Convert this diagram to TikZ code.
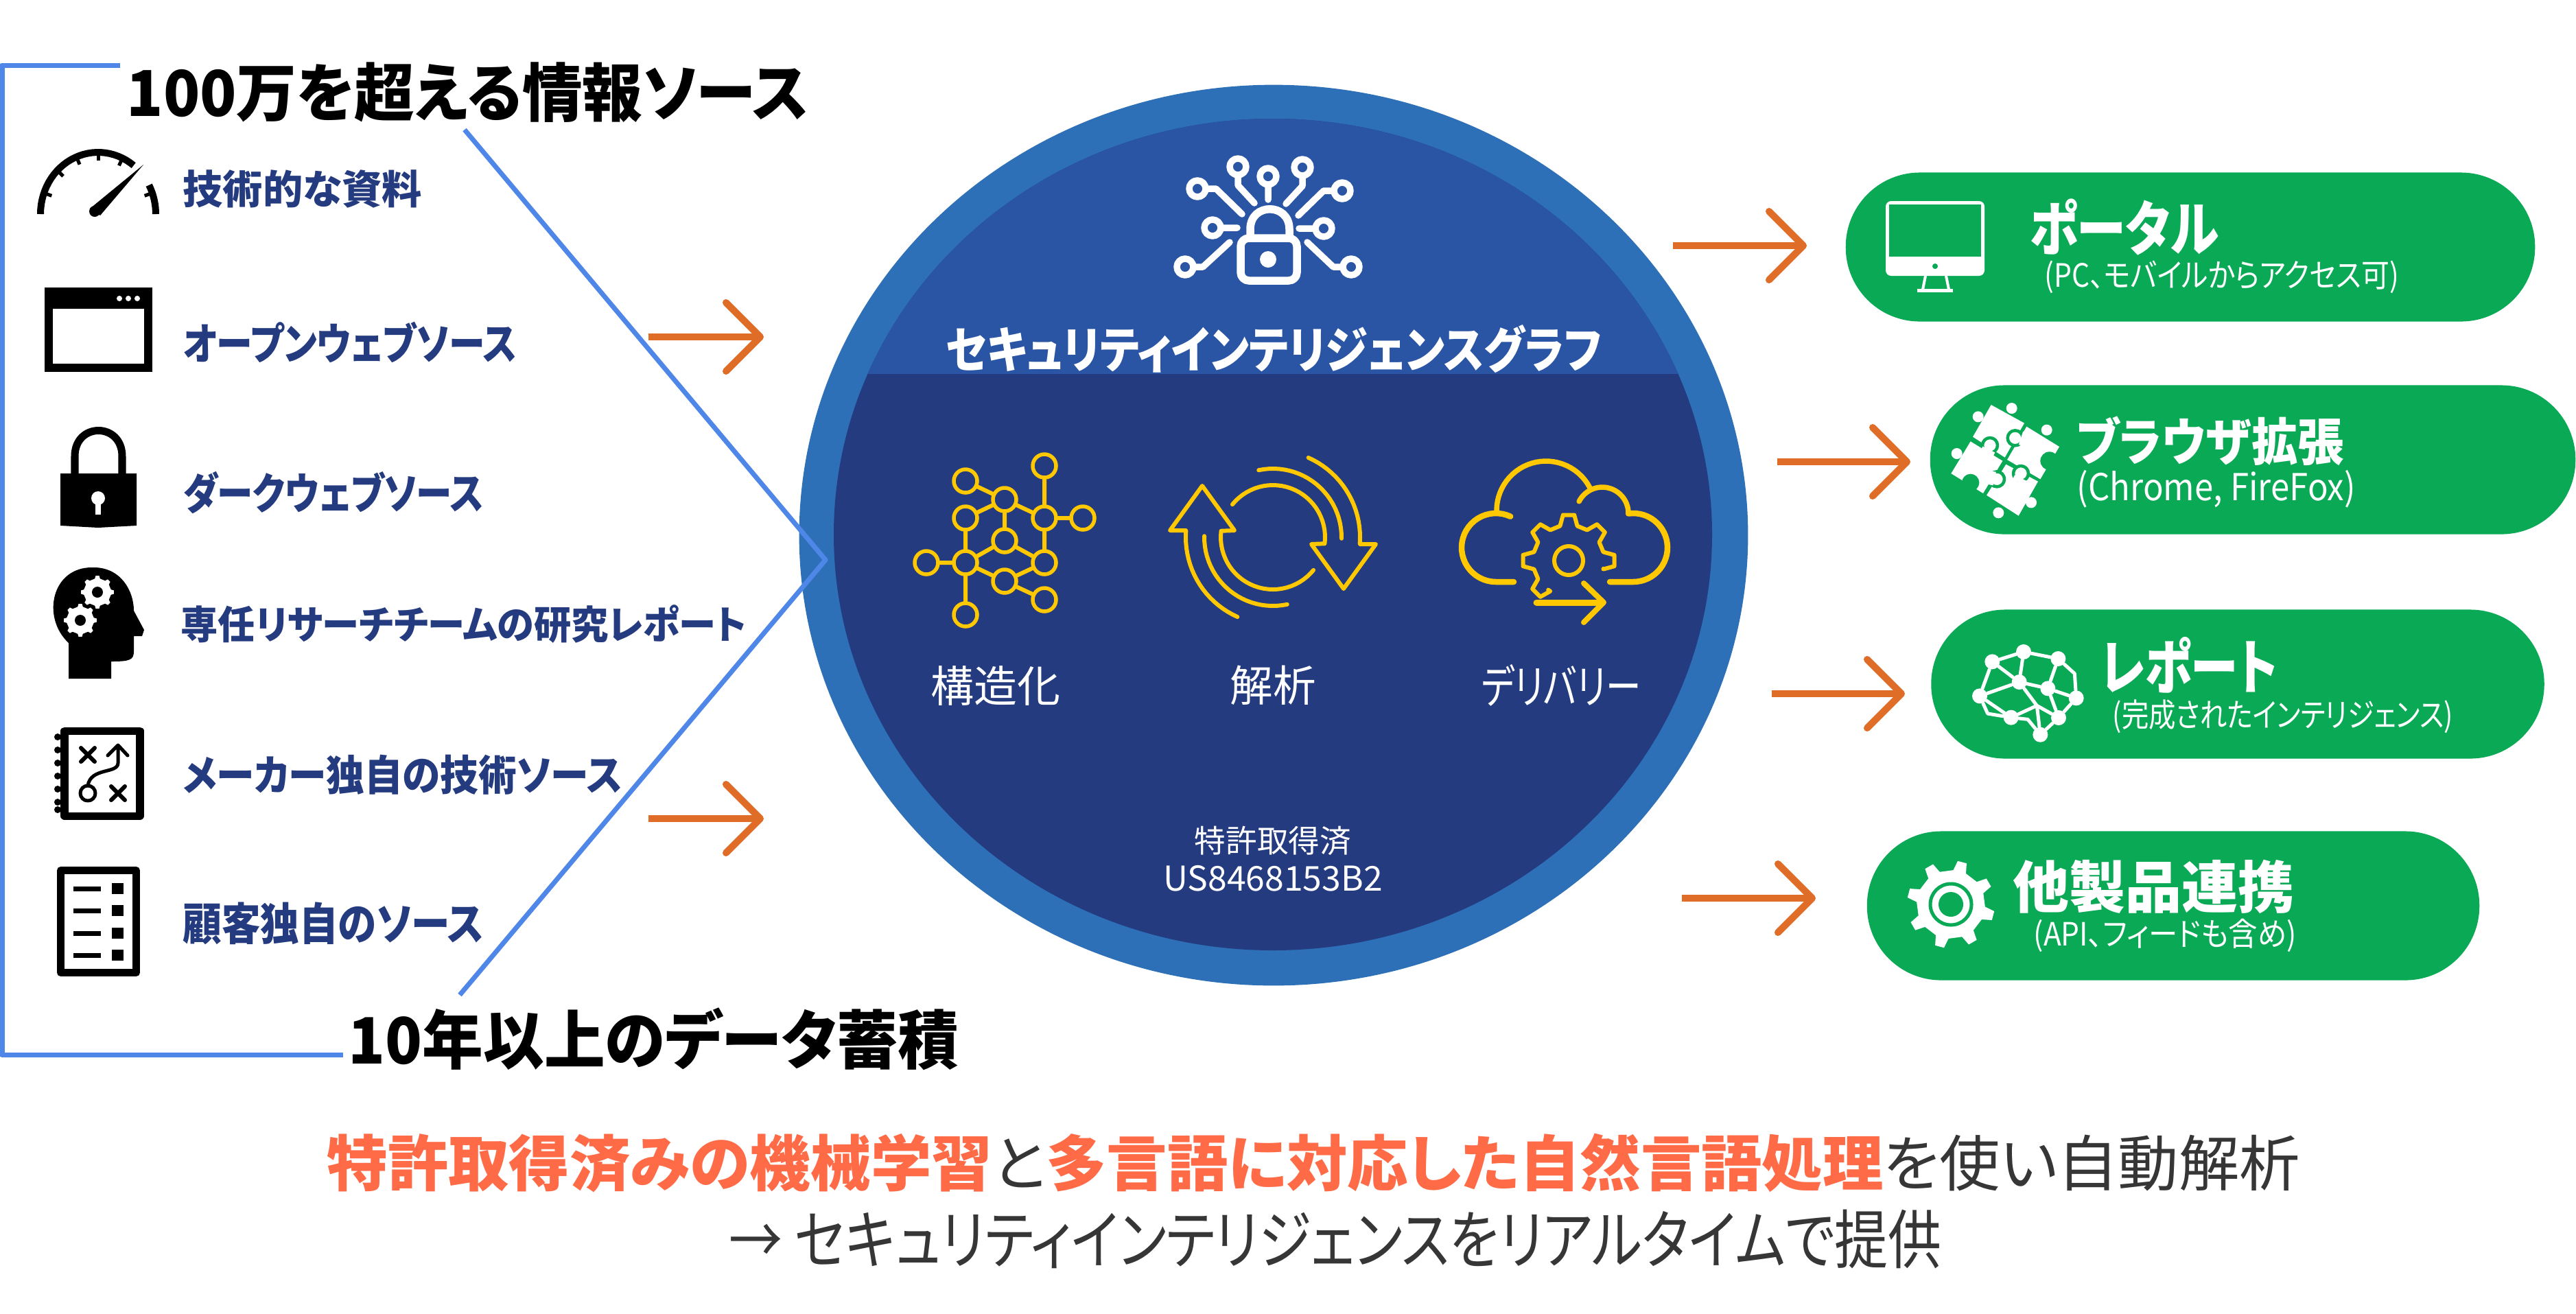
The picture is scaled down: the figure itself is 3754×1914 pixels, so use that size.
\documentclass[tikz,border=0pt]{standalone}
\usepackage{fontspec}
\setmainfont[RawFeature=+palt]{Noto Sans CJK JP}
\usetikzlibrary{arrows.meta,shapes.geometric}
\definecolor{ringblue}{HTML}{2D70B7}
\definecolor{capblue}{HTML}{2A55A5}
\definecolor{coreblue}{HTML}{243B7F}
\definecolor{linkblue}{HTML}{4F87E8}
\definecolor{flowred}{HTML}{DF6D27}
\definecolor{pillgreen}{HTML}{09A955}
\definecolor{iconyellow}{HTML}{FFC800}
\definecolor{notered}{HTML}{FF6B47}
\definecolor{notegray}{HTML}{363636}
\newcommand{\fitw}[3][1]{\resizebox{#2cm}{!}{\scalebox{1}[#1]{#3}}}
\newcommand{\cogfill}[6]{\fill[#1,shift={(#2,#3)}] ({#6-11}:#4) \foreach \k in {0,45,...,315}{ -- ({#6+\k-11}:#4) -- ({#6+\k-6}:#5) -- ({#6+\k+6}:#5) -- ({#6+\k+11}:#4)} -- cycle;}
\begin{document}
\begin{tikzpicture}[x=0.01cm,y=-0.01cm,line join=round,line cap=round,
	flowarrow/.style={flowred,line width=0.1cm,line cap=butt,-{Straight Barb[length=0.5cm,width=1.0cm,round]}},
	linkline/.style={linkblue,line width=0.07cm,line cap=butt},
	pillbox/.style={fill=pillgreen,rounded corners=1.08cm,minimum height=2.17cm,inner sep=0pt},
	txt/.style={inner sep=0pt,anchor=west},
	srclabel/.style={txt,coreblue,font=\bfseries},
	toplabel/.style={txt,black,font=\bfseries},
	pillhead/.style={txt,white,font=\bfseries},
	pillsub/.style={txt,white},
	corelabel/.style={inner sep=0pt,white},
	yline/.style={iconyellow,line width=0.06cm},
	wline/.style={white,line width=0.1cm},
	netdot/.style={circle,draw=iconyellow,line width=0.055cm,minimum size=0.34cm,inner sep=0pt},
	braindot/.style={circle,fill=white,minimum size=0.22cm,inner sep=0pt}]
\useasboundingbox (0,0) rectangle (3754,1914);

\node[ellipse,fill=ringblue,minimum width=13.82cm,minimum height=13.12cm,inner sep=0pt] (core) at (1856,780) {};
\begin{scope}
	\clip (1855,779) ellipse (640 and 606);
	\fill[coreblue] (1200,160) rectangle (2510,1400);
	\fill[capblue] (1200,160) rectangle (2510,545);
\end{scope}

\coordinate (tipL) at (1203,816);
\draw[linkline] (175,95) -- (3,95) -- (3,1537) -- (500,1537);
\draw[linkline] (677,189) -- (tipL) -- (670,1450);

\node[toplabel] (topA) at (184,135) {\fitw[1.05]{9.94}{100万を超える情報ソース}};
\node[toplabel] (topB) at (507,1514) {\fitw[1.05]{8.89}{10年以上のデータ蓄積}};

\node[srclabel] (srcA) at (266,275) {\fitw{3.48}{技術的な資料}};
\node[srclabel] (srcB) at (266,499) {\fitw[1.2]{4.86}{オープンウェブソース}};
\node[srclabel] (srcC) at (266,718) {\fitw[1.2]{4.38}{ダークウェブソース}};
\node[srclabel] (srcD) at (263,910) {\fitw[1.05]{8.24}{専任リサーチチームの研究レポート}};
\node[srclabel] (srcE) at (266,1129) {\fitw[1.1]{6.40}{メーカー独自の技術ソース}};
\node[srclabel] (srcF) at (266,1346) {\fitw[1.15]{4.38}{顧客独自のソース}};

\draw[black,line width=0.1cm,line cap=butt] plot[domain=-180:-52,samples=30] ({143+84*cos(\x)},{312+90*sin(\x)});
\draw[black,line width=0.1cm,line cap=butt] plot[domain=-28:0,samples=10] ({143+84*cos(\x)},{312+90*sin(\x)});
\foreach \a in {-160,-135,-112,-90,-65,-20}
	\draw[black,line width=0.05cm,line cap=butt] ({143+84*cos(\a)},{312+90*sin(\a)}) -- ({143+72*cos(\a)},{312+78*sin(\a)});
\fill[black] (209,240) -- (131,304) -- (146,314) -- cycle;
\fill[black] (138,308) circle (8);

\fill[black] (65,419) rectangle (222,542);
\fill[white] (77,450) rectangle (210,530);
\foreach \x in {174,187,200}
	\fill[white] (\x,435) circle (4);

\draw[black,line width=0.11cm,line cap=butt] (109,695) -- (109,665) .. controls (109,615) and (178,615) .. (178,665) -- (178,695);
\fill[black] (88,690) -- (199,690) -- (199,766) -- (143,769) -- (88,766) -- cycle;
\fill[white] (143,726) circle (10);
\fill[white] (139,726) rectangle (147,750);

\fill[black] (100,989) -- (100,937) .. controls (60,900) and (75,826) .. (135,827) .. controls (175,826) and (195,860) .. (195,890) -- (210,918) -- (207,927) -- (195,927) -- (195,950) .. controls (195,962) and (188,964) .. (162,964) -- (162,989) -- cycle;
\cogfill{white}{142}{863}{20}{24}{0}
\cogfill{white}{117}{904}{20}{24}{0}
\fill[black] (142,863) circle (8);
\fill[black] (117,904) circle (8);

\draw[black,line width=0.11cm,line cap=butt] (94,1065) rectangle (204,1189);
\foreach \y in {1074,1093,1112,1131,1150,1169,1180}
	\fill[black] (84,\y) circle (5);
\draw[black,line width=0.06cm] (118,1090) -- (138,1110) (118,1110) -- (138,1090);
\draw[black,line width=0.06cm] (162,1146) -- (182,1166) (162,1166) -- (182,1146);
\draw[black,line width=0.05cm] (128,1156) circle (11);
\draw[black,line width=0.05cm] (157,1101) -- (172,1086) -- (186,1101) (172,1086) -- (172,1112) .. controls (172,1128) and (132,1118) .. (128,1145);

\draw[black,line width=0.11cm,line cap=butt] (88.5,1268.5) rectangle (198.5,1417.5);
\foreach \y in {1295,1327,1360,1392}{
	\fill[black] (107,\y-3.5) rectangle (147,\y+3.5);
	\fill[black] (163,\y-8) rectangle (180,\y+8);
}

\coordinate (inA) at (945,491);
\coordinate (inAe) at (1113,491);
\coordinate (inB) at (945,1193);
\coordinate (inBe) at (1113,1193);
\draw[flowarrow] (inA) -- (inAe);
\draw[flowarrow] (inB) -- (inBe);

\node[corelabel,anchor=center] (coreTitle) at (1856,509) {\bfseries\fitw[1.15]{9.55}{セキュリティインテリジェンスグラフ}};
\node[corelabel] (lblA) at (1451,999) {\fitw{1.89}{構造化}};
\node[corelabel] (lblB) at (1855,999) {\fitw{1.25}{解析}};
\node[corelabel] (lblC) at (2275,999) {\fitw[1.3]{2.32}{デリバリー}};
\node[corelabel] (patA) at (1855,1225) {\fitw{2.28}{特許取得済}};
\node[corelabel] (patB) at (1855,1280) {\fitw{3.19}{US8468153B2}};

\begin{scope}[wline,line width=0.095cm]
	\draw (1804,243) circle (12) (1804,257) -- (1804,270) -- (1828,296);
	\draw (1848,257) circle (12) (1848,271) -- (1848,291);
	\draw (1898,244) circle (12) (1898,258) -- (1898,271) -- (1874,297);
	\draw (1745,275) circle (12) (1760,275) -- (1772,275) -- (1810,312);
	\draw (1956,278) circle (12) (1941,278) -- (1929,278) -- (1892,314);
	\draw (1767,332) circle (12) (1782,332) -- (1803,332);
	\draw (1929,333) circle (12) (1915,333) -- (1893,333);
	\draw (1727,389) circle (12) (1742,389) -- (1753,389) -- (1792,353);
	\draw (1969,389) circle (12) (1955,389) -- (1943,389) -- (1905,353);
	\draw[line width=0.115cm,rounded corners=0.12cm] (1808,347) rectangle (1890,409);
	\draw[line width=0.115cm,line cap=butt] (1822,345) -- (1822,334) .. controls (1822,295) and (1879,295) .. (1879,334) -- (1879,345);
	\fill[white] (1848,378) circle (12);
\end{scope}

\node[netdot] (na) at (1522,679) {};
\node[netdot] (nb) at (1407,701) {};
\node[netdot] (nc) at (1464,728) {};
\node[netdot] (nd) at (1407,755) {};
\node[netdot] (ne) at (1522,755) {};
\node[netdot] (nf) at (1578,755) {};
\node[netdot] (ng) at (1464,788) {};
\node[netdot] (nh) at (1350,820) {};
\node[netdot] (ni) at (1407,820) {};
\node[netdot] (nj) at (1522,820) {};
\node[netdot] (nk) at (1464,847) {};
\node[netdot] (nl) at (1522,874) {};
\node[netdot] (nm) at (1407,896) {};
\draw[yline] (na)--(ne) (nb)--(nc) (nc)--(nd) (nc)--(ne) (ne)--(nf) (nd)--(ni) (nc)--(ng) (ne)--(nj) (nh)--(ni) (ni)--(ng) (ng)--(nj) (ni)--(nk) (nk)--(nj) (nk)--(nl) (ni)--(nm);

\foreach \r in {0,180}{
\begin{scope}[rotate around={\r:(1855,783)}]
	\draw[yline] plot[domain=-141:7,samples=30] ({1855+76*cos(\x)},{783+76*sin(\x)}) -- (1911,793) -- (1958,858) -- (2005,793) -- (1982,793) -- plot[domain=4:-66,samples=20] ({1855+127*cos(\x)},{783+127*sin(\x)});
	\draw[yline] plot[domain=1:-102,samples=25] ({1855+100*cos(\x)},{783+100*sin(\x)});
\end{scope}
}

\draw[iconyellow,line width=0.085cm] (2206,848) -- plot[domain=90:295,samples=30] ({2180+50*cos(\x)},{798+50*sin(\x)});
\draw[iconyellow,line width=0.075cm] plot[domain=180:332,samples=30] ({2253+72*cos(\x)},{744+72*sin(\x)});
\draw[iconyellow,line width=0.075cm] plot[domain=207:360,samples=30] ({2335+38*cos(\x)},{748+38*sin(\x)});
\draw[iconyellow,line width=0.085cm] plot[domain=262:450,samples=30] ({2380+50*cos(\x)},{798+50*sin(\x)}) -- (2346,848);
\draw[iconyellow,line width=0.06cm] (2286,817) circle (21);
\draw[iconyellow,line width=0.06cm,shift={(2286,817)}] (125:52) \foreach \a in {135,180,225,270,315,360}{ -- ({\a-14}:52) -- ({\a-7}:67) -- ({\a+7}:67) -- ({\a+14}:52)} -- (13:52);
\draw[iconyellow,line width=0.09cm] (2239,878) -- (2330,878);
\draw[iconyellow,line width=0.08cm] (2308,850) -- (2337,878) -- (2308,907);

\node[pillbox,minimum width=10.04cm] (portal) at (3192,360) {};
\node[pillbox,minimum width=9.40cm] (browser) at (3283,670) {};
\node[pillbox,minimum width=8.93cm] (report) at (3261,997) {};
\node[pillbox,minimum width=8.92cm] (partner) at (3167,1320) {};

\coordinate (outA) at (2438,358);
\coordinate (outAe) at (2633,358);
\coordinate (outB) at (2590,673);
\coordinate (outBe) at (2784,673);
\coordinate (outC) at (2582,1011);
\coordinate (outCe) at (2776,1011);
\coordinate (outD) at (2451,1309);
\coordinate (outDe) at (2646,1309);
\draw[flowarrow] (outA) -- (outAe);
\draw[flowarrow] (outB) -- (outBe);
\draw[flowarrow] (outC) -- (outCe);
\draw[flowarrow] (outD) -- (outDe);

\node[pillhead] (portalT) at (2957,331) {\fitw[1.2]{2.76}{ポータル}};
\node[pillsub] (portalS) at (2979,404) {\fitw[1.15]{5.16}{(PC、モバイルからアクセス可)}};
\node[pillhead] (browserT) at (3026,643) {\fitw[1.1]{3.89}{ブラウザ拡張}};
\node[pillsub] (browserS) at (3026,713) {\fitw[1.1]{4.06}{(Chrome, FireFox)}};
\node[pillhead] (reportT) at (3060,969) {\fitw[1.25]{2.58}{レポート}};
\node[pillsub] (reportS) at (3078,1044) {\fitw[1.2]{4.96}{(完成されたインテリジェンス)}};
\node[pillhead] (partnerT) at (2933,1292) {\fitw{4.10}{他製品連携}};
\node[pillsub] (partnerS) at (2963,1363) {\fitw[1.1]{3.83}{(API、フィードも含め)}};

\fill[white,rounded corners=0.08cm] (2748,293) rectangle (2892,402);
\fill[pillgreen] (2753,298) rectangle (2887,374);
\fill[pillgreen] (2820,388) circle (4);
\draw[white,line width=0.04cm,line cap=butt] (2806,402) -- (2802,422) (2836,402) -- (2840,422);
\fill[white] (2794,421) rectangle (2846,426);

\begin{scope}[shift={(2830,575)},scale=1/3]
	\fill[white] (215,45) -- (360,125) -- (275,275) -- (135,185) -- cycle;
	\fill[white] (370,140) -- (513,228) -- (430,370) -- (285,285) -- cycle;
	\fill[white] (125,205) -- (265,290) -- (180,432) -- (40,345) -- cycle;
	\fill[white] (280,305) -- (420,380) -- (335,530) -- (195,440) -- cycle;
	\foreach \p in {(305,60),(158,97),(458,155),(65,258),(390,472),(247,517)}
		\fill[white] \p circle (24);
	\fill[pillgreen] (470,290) circle (40);
	\fill[pillgreen] (125,385) circle (38);
	\foreach \p in {(210,222),(320,190),(240,370),(345,345)}
		\filldraw[fill=white,draw=pillgreen,line width=0.045cm] \p circle (33);
	\draw[white,line width=0.2cm,line cap=butt] (205,240) -- (190,270) (345,190) -- (375,200) (230,368) -- (195,360) (345,365) -- (335,385);
\end{scope}

\begin{scope}[shift={(2860,920)},scale=1/3]
	\node[braindot] (ba) at (130,133) {};
	\node[braindot] (bb) at (267,90) {};
	\node[braindot] (bc) at (418,120) {};
	\node[braindot] (bd) at (248,222) {};
	\node[braindot] (be) at (373,250) {};
	\node[braindot] (bf) at (75,283) {};
	\node[braindot] (bg) at (497,292) {};
	\node[braindot] (bh) at (212,377) {};
	\node[braindot] (bi) at (420,378) {};
	\node[braindot] (bj) at (340,452) {};
	\coordinate (bk) at (325,325);
	\coordinate (bl) at (490,185);
	\coordinate (bm) at (110,360);
	\coordinate (bn) at (285,385);
	\draw[white,line width=0.05cm] (ba)--(bb) (bb)--(bc) (ba)--(bd) (bb)--(bd) (ba)--(bf) (bc)--(be) (bc)--(bl)--(bg) (bd)--(be) (bd)--(bf) (be)--(bg) (be)--(bi) (bg)--(bi) (bi)--(bj) (bf)--(bh) (bf)--(bm)--(bh) (bh)--(bn)--(bj) (bh)--(bk) (bd)--(bk) (bk)--(bi) (bk)--(bj);
\end{scope}

\cogfill{white}{2843}{1318}{50}{64}{15}
\draw[pillgreen,line width=0.05cm] (2843,1318) circle (30);
\fill[pillgreen] (2843,1318) circle (18);

\node[txt] (noteA) at (476,1695) {\fitw{28.73}{\textcolor{notered}{\bfseries 特許取得済みの機械学習}\textcolor{notegray}{と}\textcolor{notered}{\bfseries 多言語に対応した自然言語処理}\textcolor{notegray}{を使い自動解析}}};
\node[txt,notegray] (noteB) at (1062,1806) {\fitw[1.2]{17.66}{→ セキュリティインテリジェンスをリアルタイムで提供}};
\end{tikzpicture}
\end{document}
